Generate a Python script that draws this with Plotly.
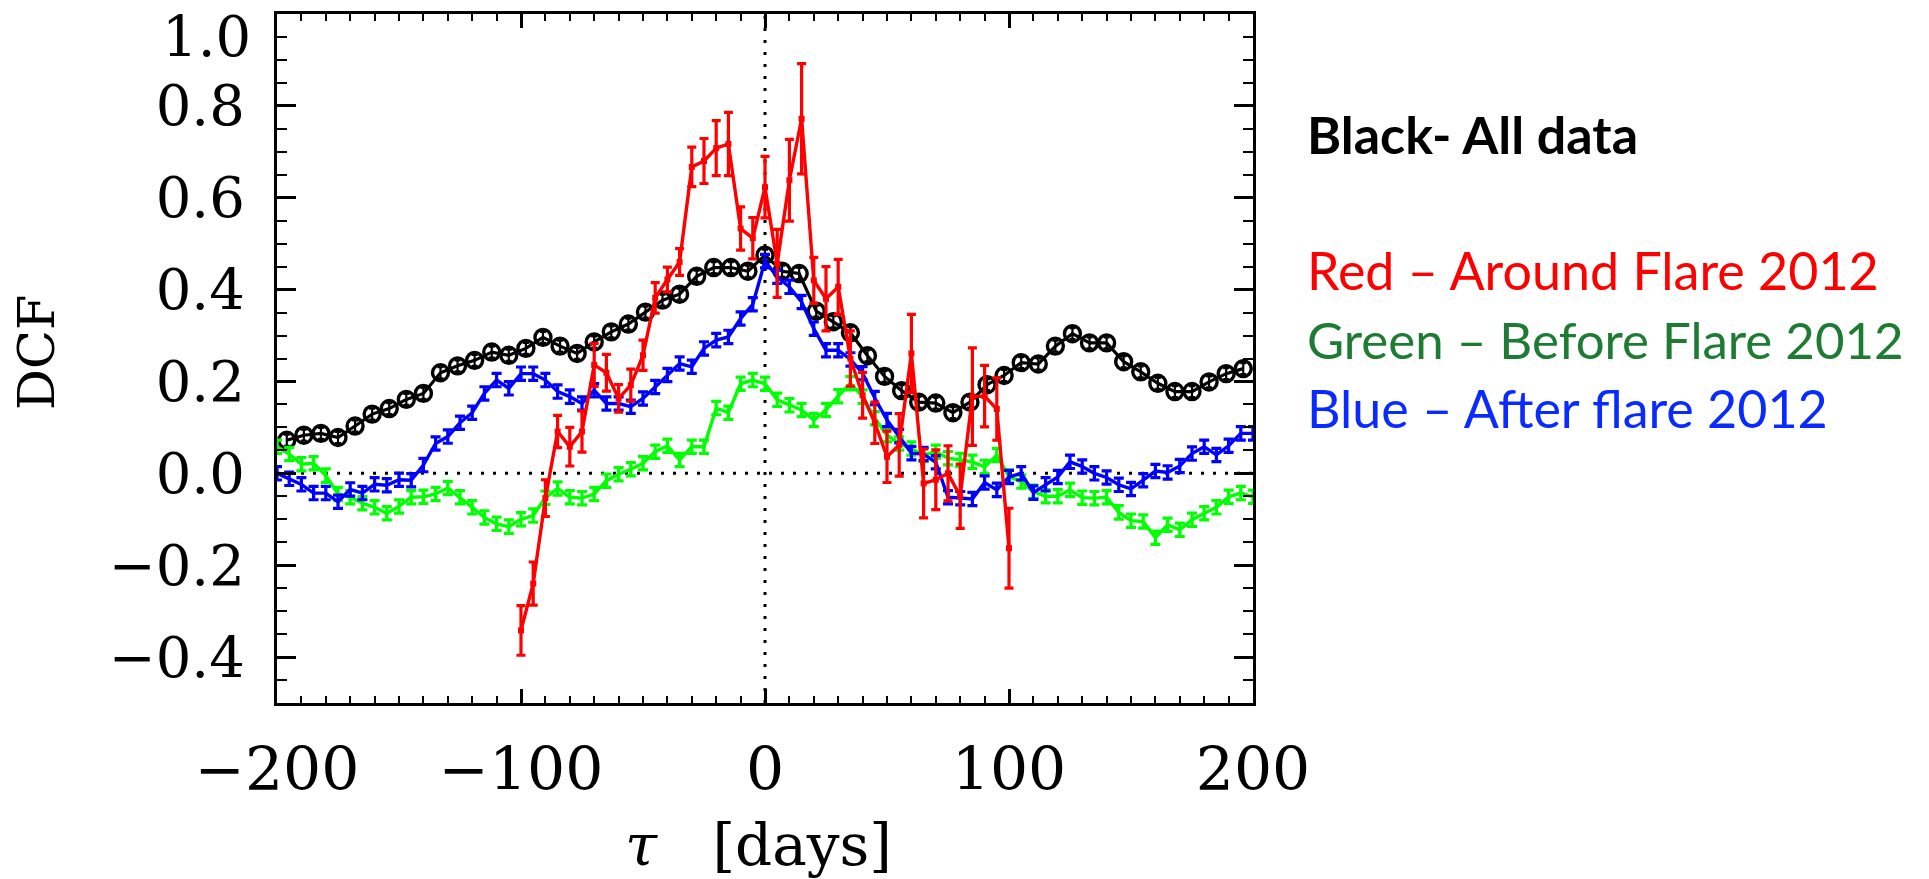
import plotly.graph_objects as go

# ---- discrete correlation function, lag in days ----
black_lag = [-196, -189, -182, -175, -168, -161, -154, -147, -140, -133, -126, -119, -112, -105,
             -98, -91, -84, -77, -70, -63, -56, -49, -42, -35, -28, -21, -14, -7,
             0, 7, 14, 21, 28, 35, 42, 49, 56, 63, 70, 77, 84, 91, 98,
             105, 112, 119, 126, 133, 140, 147, 154, 161, 168, 175, 182, 189, 196]
black_dcf = [0.072, 0.083, 0.087, 0.078, 0.103, 0.129, 0.141, 0.161, 0.174, 0.219, 0.234, 0.246, 0.264, 0.257,
             0.272, 0.296, 0.277, 0.261, 0.286, 0.308, 0.325, 0.351, 0.377, 0.390, 0.429, 0.448, 0.448, 0.440,
             0.475, 0.440, 0.435, 0.353, 0.330, 0.306, 0.256, 0.211, 0.180, 0.155, 0.153, 0.132, 0.155, 0.193, 0.213,
             0.241, 0.238, 0.277, 0.304, 0.284, 0.284, 0.243, 0.221, 0.196, 0.178, 0.178, 0.199, 0.217, 0.228]

lag_5 = [-200, -195, -190, -185, -180, -175, -170, -165, -160, -155, -150, -145, -140, -135, -130, -125,
         -120, -115, -110, -105, -100, -95, -90, -85, -80, -75, -70, -65, -60, -55, -50, -45, -40, -35,
         -30, -25, -20, -15, -10, -5, 0, 5, 10, 15, 20, 25, 30, 35, 40, 45, 50, 55, 60, 65, 70, 75, 80,
         85, 90, 95, 100, 105, 110, 115, 120, 125, 130, 135, 140, 145, 150, 155, 160, 165, 170, 175,
         180, 185, 190, 195, 200]

green_dcf = [0.058, 0.042, 0.020, 0.022, -0.005, -0.045, -0.052, -0.065, -0.074, -0.087, -0.072, -0.052,
             -0.051, -0.045, -0.032, -0.052, -0.074, -0.096, -0.110, -0.116, -0.100, -0.092, -0.053, -0.033,
             -0.052, -0.054, -0.045, -0.016, -0.002, 0.009, 0.022, 0.047, 0.060, 0.029, 0.058, 0.058,
             0.142, 0.132, 0.195, 0.203, 0.195, 0.160, 0.148, 0.138, 0.116, 0.138, 0.168, 0.196, 0.167,
             0.120, 0.083, 0.065, 0.054, 0.040, 0.047, 0.033, 0.029, 0.025, 0.014, 0.040, -0.007, -0.018,
             -0.040, -0.050, -0.050, -0.036, -0.053, -0.054, -0.052, -0.085, -0.103, -0.105, -0.140, -0.112,
             -0.123, -0.101, -0.087, -0.074, -0.051, -0.043, -0.051]

blue_dcf = [0.000, -0.012, -0.024, -0.043, -0.043, -0.062, -0.035, -0.043, -0.024, -0.026, -0.014, -0.015,
            0.018, 0.065, 0.080, 0.110, 0.132, 0.174, 0.203, 0.185, 0.217, 0.217, 0.203, 0.178, 0.167,
            0.152, 0.181, 0.152, 0.152, 0.145, 0.163, 0.188, 0.214, 0.239, 0.232, 0.272, 0.290, 0.297,
            0.337, 0.368, 0.462, 0.428, 0.406, 0.373, 0.315, 0.268, 0.268, 0.248, 0.218, 0.164, 0.116,
            0.081, 0.044, 0.042, 0.024, -0.052, -0.054, -0.056, -0.020, -0.036, -0.008, 0.000, -0.042,
            -0.024, -0.008, 0.025, 0.015, 0.000, -0.009, -0.025, -0.034, -0.015, 0.005, 0.002, 0.016,
            0.043, 0.058, 0.040, 0.060, 0.087, 0.087]

red_lag = [-100, -95, -90, -85, -80, -75, -70, -65, -60, -55, -50, -45, -40, -35, -30, -25, -20, -15,
           -10, -5, 0, 5, 10, 15, 20, 25, 30, 35, 40, 45, 50, 55, 60, 65, 70, 75, 80, 85, 90, 95, 100]
red_dcf = [-0.342, -0.240, -0.054, 0.091, 0.058, 0.091, 0.236, 0.219, 0.163, 0.192, 0.257, 0.382, 0.422,
           0.460, 0.667, 0.680, 0.708, 0.717, 0.533, 0.512, 0.623, 0.457, 0.638, 0.772, 0.420, 0.380,
           0.406, 0.250, 0.170, 0.110, 0.036, 0.062, 0.261, -0.022, -0.014, 0.000, -0.050, 0.167, 0.168,
           0.140, -0.163]
red_err = [0.054, 0.047, 0.040, 0.035, 0.042, 0.045, 0.047, 0.040, 0.030, 0.035, 0.033, 0.033, 0.027,
           0.029, 0.043, 0.049, 0.060, 0.069, 0.047, 0.045, 0.067, 0.074, 0.089, 0.120, 0.050, 0.070,
           0.060, 0.060, 0.050, 0.045, 0.056, 0.068, 0.085, 0.075, 0.065, 0.060, 0.070, 0.106, 0.067,
           0.068, 0.087]

x_tick_vals = [-200, -100, 0, 100, 200]
y_tick_vals = [-0.4, -0.2, 0.0, 0.2, 0.4, 0.6, 0.8, 1.0]
y_tick_text = ["\u22120.4", "\u22120.2", "0.0", "0.2", "0.4", "0.6", "0.8", ""]

legend_lines = ["<b>Black- All data</b>", "Red \u2013 Around Flare 2012",
                "Green \u2013 Before Flare 2012", "Blue \u2013 After flare 2012"]
legend_colors = ["#000000", "#FF0000", "#1E7B34", "#0A2BFF"]

# ---- geometry of the plotting box (pixels) ----
W, H = 1929, 879
L, R, T, B = 277, 1253, 14, 703
PW, PH = R - L, B - T


def px_x(px):
    return (px - L) / PW


def px_y(py):
    return (B - py) / PH


fig = go.Figure()

fig.add_trace(go.Scatter(
    x=black_lag, y=black_dcf, mode="lines+markers",
    line=dict(color="black", width=3.2),
    marker=dict(symbol="circle-open", size=16, color="black", line=dict(width=3.4)),
    error_y=dict(type="constant", value=0.012, color="black", thickness=2.2, width=3),
))
fig.add_trace(go.Scatter(
    x=lag_5, y=green_dcf, mode="lines",
    line=dict(color="#00FF00", width=3.4),
    error_y=dict(type="constant", value=0.0145, color="#00FF00", thickness=3.2, width=5),
))
fig.add_trace(go.Scatter(
    x=lag_5, y=blue_dcf, mode="lines",
    line=dict(color="#0000FF", width=3.4),
    error_y=dict(type="constant", value=0.0145, color="#0000FF", thickness=3.2, width=5),
))
fig.add_trace(go.Scatter(
    x=red_lag, y=red_dcf, mode="lines+markers",
    line=dict(color="#FF0000", width=3.4),
    marker=dict(symbol="square", size=6, color="#FF0000"),
    error_y=dict(type="data", array=red_err, color="#FF0000", thickness=3.2, width=4.5),
))

# zero-lag and zero-correlation reference lines
dotted = dict(color="black", width=3, dash="3px,9px")
fig.add_shape(type="line", x0=-200, x1=200, y0=0, y1=0, line=dotted, layer="below")
fig.add_shape(type="line", x0=0, x1=0, y0=-0.5, y1=1.0, line=dotted, layer="below")

axis_common = dict(showgrid=False, zeroline=False, showline=True, linewidth=3, linecolor="black",
                   mirror="ticks", ticks="inside", tickcolor="black")

fig.update_xaxes(range=[-200, 200], tickmode="array", tickvals=x_tick_vals,
                 ticklen=14, tickwidth=2.5,
                 minor=dict(ticks="inside", ticklen=7, tickwidth=2, tickcolor="black",
                            tickmode="linear", tick0=0, dtick=10, showgrid=False),
                 tickfont=dict(family="DejaVu Serif", size=60, color="black"),
                 ticklabelstandoff=12, **axis_common)
fig.update_yaxes(range=[-0.5, 1.0], tickmode="array", tickvals=y_tick_vals, ticktext=y_tick_text,
                 ticklen=19, tickwidth=2.5,
                 minor=dict(ticks="inside", ticklen=10, tickwidth=2, tickcolor="black",
                            tickmode="linear", tick0=0, dtick=0.05, showgrid=False),
                 tickfont=dict(family="DejaVu Serif", size=56, color="black"),
                 ticklabelstandoff=18, **axis_common)

annotations = [
    dict(text="1.0", x=px_x(253), y=px_y(36), xanchor="right", yanchor="middle",
         font=dict(family="DejaVu Serif", size=56, color="black")),
    dict(text="DCF", textangle=-90, x=px_x(36), y=px_y(353), xanchor="center", yanchor="middle",
         font=dict(family="DejaVu Serif", size=51, color="black")),
    dict(text="<i>\u03c4</i>\u00a0\u00a0\u00a0[days]", x=px_x(758), y=px_y(845), xanchor="center",
         yanchor="middle", font=dict(family="DejaVu Serif", size=58, color="black")),
]
legend_y = [134, 270, 339, 408]
legend_size = [52, 52, 51, 52]
for txt, col, yy, sz in zip(legend_lines, legend_colors, legend_y, legend_size):
    annotations.append(dict(text=txt, x=px_x(1305), y=px_y(yy), xanchor="left", yanchor="middle",
                            font=dict(family="Lato", size=sz, color=col)))
for a in annotations:
    a.update(xref="paper", yref="paper", showarrow=False)

fig.update_layout(width=W, height=H, autosize=False,
                  margin=dict(l=L, r=W - R, t=T, b=H - B, pad=0),
                  paper_bgcolor="white", plot_bgcolor="white", showlegend=False,
                  annotations=annotations)

fig.write_html("out.html")
